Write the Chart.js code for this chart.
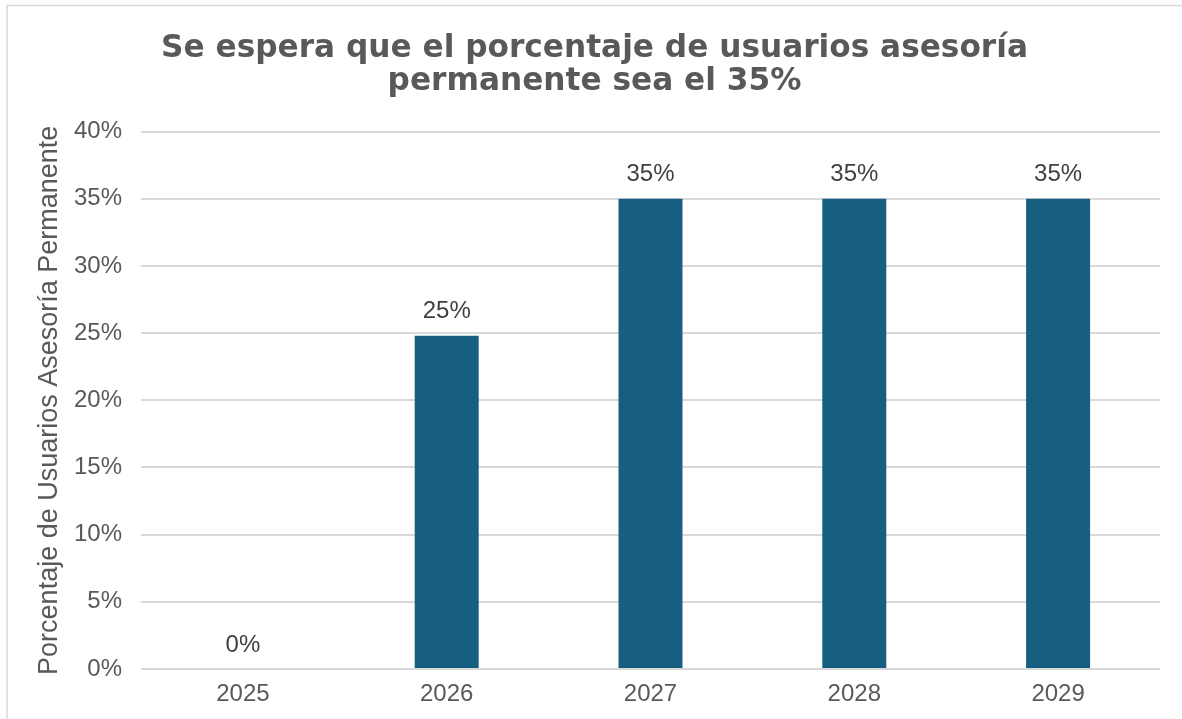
<!DOCTYPE html>
<html>
<head>
<meta charset="utf-8">
<script src="https://cdn.jsdelivr.net/npm/chart.js@4/dist/chart.umd.min.js"></script>
<style>
  html, body { margin: 0; padding: 0; background: #ffffff; }
  #wrap { width: 1182px; height: 719px; position: relative; }
</style>
</head>
<body>
<div id="wrap"><canvas id="c" width="1182" height="719"></canvas></div>
<script>
const categories = ['2025', '2026', '2027', '2028', '2029'];
const values = [0, 24.8, 35, 35, 35];
const dataLabels = ['0%', '25%', '35%', '35%', '35%'];
const yTicks = [0, 5, 10, 15, 20, 25, 30, 35, 40];
const titleLines = ['Se espera que el porcentaje de usuarios asesoría', 'permanente sea el 35%'];
const yTitle = 'Porcentaje de Usuarios Asesoría Permanente';

const framePlugin = {
  id: 'frame',
  beforeDraw(chart) {
    const ctx = chart.ctx;
    ctx.save();
    ctx.fillStyle = '#ffffff';
    ctx.fillRect(0, 0, chart.width, chart.height);
    ctx.strokeStyle = '#d9d9d9';
    ctx.lineWidth = 1.5;
    ctx.beginPath();
    ctx.moveTo(7, chart.height);
    ctx.lineTo(7, 5.5);
    ctx.lineTo(chart.width, 5.5);
    ctx.stroke();
    ctx.restore();
  }
};

const labelPlugin = {
  id: 'barLabels',
  afterDatasetsDraw(chart) {
    const ctx = chart.ctx;
    const meta = chart.getDatasetMeta(0);
    ctx.save();
    ctx.font = '24px "Liberation Sans", Arial, sans-serif';
    ctx.fillStyle = '#404040';
    ctx.textAlign = 'center';
    ctx.textBaseline = 'middle';
    meta.data.forEach((bar, i) => {
      ctx.fillText(dataLabels[i], bar.x, bar.y - 24);
    });
    ctx.restore();
  }
};

new Chart(document.getElementById('c'), {
  type: 'bar',
  data: {
    labels: categories,
    datasets: [{
      data: values,
      backgroundColor: '#165f80',
      borderWidth: 0,
      barPercentage: 0.314,
      categoryPercentage: 1.0
    }]
  },
  options: {
    responsive: false,
    animation: false,
    devicePixelRatio: 1,
    layout: { padding: { left: 29, right: 22, top: 0, bottom: 0 } },
    plugins: {
      legend: { display: false },
      tooltip: { enabled: false },
      title: {
        display: true,
        text: titleLines,
        color: '#595959',
        font: { family: '"DejaVu Sans", sans-serif', size: 31.2, weight: 'bold', lineHeight: 1.05 },
        padding: { top: 33, bottom: 33 }
      }
    },
    scales: {
      x: {
        afterFit(scale) { scale.height = 50; },
        grid: { display: false, drawTicks: false },
        border: { display: false },
        ticks: {
          color: '#595959',
          font: { family: '"Liberation Sans", Arial, sans-serif', size: 24 },
          padding: 11
        }
      },
      y: {
        min: 0,
        max: 40,
        afterFit(scale) { scale.width = 112; },
        afterBuildTicks(scale) { scale.ticks = yTicks.map(v => ({ value: v })); },
        grid: { color: '#d9d9d9', lineWidth: 2, drawTicks: false },
        border: { display: false },
        ticks: {
          color: '#595959',
          font: { family: '"Liberation Sans", Arial, sans-serif', size: 24 },
          padding: 19,
          callback: (v) => v + '%'
        },
        title: {
          display: true,
          text: yTitle,
          color: '#595959',
          font: { family: '"Liberation Sans", Arial, sans-serif', size: 27 },
          padding: { top: 4, bottom: 4 }
        }
      }
    }
  },
  plugins: [framePlugin, labelPlugin]
});
</script>
</body>
</html>
